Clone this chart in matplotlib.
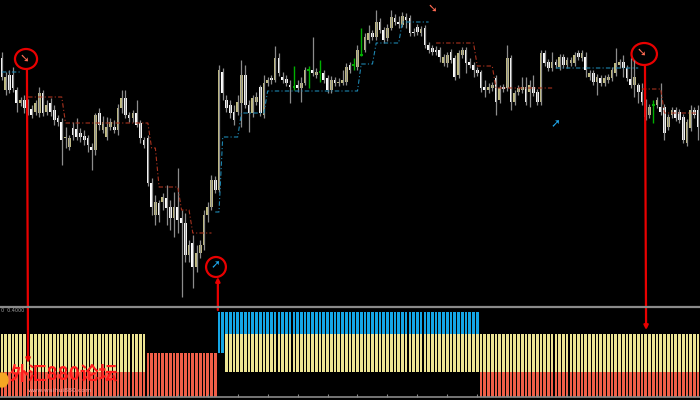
import numpy as np
import matplotlib
matplotlib.use("Agg")
import matplotlib.pyplot as plt
from matplotlib.patches import Ellipse, ConnectionPatch
from matplotlib.lines import Line2D

plt.rcParams['font.family'] = ['Noto Sans CJK SC', 'DejaVu Sans']

# OHLC per bar, in price points (rows of 10 bars)
opens = [
    242, 210, 225, 225, 210, 197, 200, 197, 191, 188,
    187, 207, 188, 197, 190, 182, 178, 162, 153, 172,
    171, 167, 164, 162, 153, 150, 187, 170, 163, 173,
    173, 170, 192, 202, 185, 182, 187, 177, 160, 162,
    117, 85, 97, 98, 102, 93, 82, 93, 82, 77,
    45, 57, 33, 47, 55, 85, 93, 120, 110, 228,
    200, 195, 188, 188, 197, 225, 195, 187, 198, 213,
    185, 217, 222, 220, 242, 223, 221, 215, 213, 215,
    212, 217, 230, 230, 225, 228, 227, 222, 210, 220,
    217, 217, 218, 235, 235, 233, 245, 250, 260, 267,
    263, 278, 270, 262, 272, 282, 278, 275, 283, 282,
    268, 273, 267, 272, 255, 252, 250, 250, 237, 237,
    248, 242, 225, 245, 250, 238, 235, 230, 228, 213,
    210, 212, 222, 200, 213, 212, 242, 198, 208, 210,
    213, 208, 213, 208, 198, 247, 238, 232, 238, 233,
    243, 235, 237, 237, 247, 242, 243, 223, 227, 218,
    222, 217, 220, 222, 227, 235, 238, 232, 221, 215,
    215, 208, 198, 185, 195, 195, 193, 193, 173, 185,
    190, 188, 183, 157, 172, 190, 190,
]
closes = [
    223, 223, 210, 212, 197, 200, 192, 191, 185, 197,
    207, 187, 195, 188, 180, 178, 160, 163, 162, 165,
    163, 163, 160, 155, 150, 185, 175, 178, 173, 178,
    170, 192, 202, 185, 182, 187, 175, 162, 155, 117,
    93, 98, 85, 103, 92, 82, 93, 80, 77, 45,
    55, 33, 47, 55, 85, 93, 120, 110, 230, 207,
    192, 187, 180, 198, 225, 195, 187, 202, 203, 187,
    217, 220, 220, 242, 227, 220, 217, 213, 213, 212,
    217, 230, 230, 227, 228, 228, 220, 210, 220, 217,
    218, 220, 233, 230, 235, 250, 245, 263, 267, 263,
    278, 270, 260, 272, 283, 278, 276, 284, 280, 267,
    267, 268, 271, 255, 250, 248, 248, 243, 243, 245,
    240, 223, 247, 250, 237, 235, 230, 227, 212, 210,
    213, 215, 198, 212, 211, 242, 198, 207, 212, 213,
    198, 215, 207, 198, 247, 237, 232, 238, 235, 243,
    235, 240, 240, 245, 243, 247, 230, 227, 218, 223,
    217, 222, 223, 230, 237, 238, 232, 222, 215, 223,
    208, 198, 183, 193, 195, 200, 188, 167, 183, 190,
    182, 180, 160, 178, 190, 185, 173,
]
highs = [
    248, 228, 230, 233, 213, 203, 205, 201, 195, 200,
    213, 210, 200, 202, 195, 185, 182, 173, 165, 178,
    182, 172, 170, 165, 157, 187, 192, 184, 183, 182,
    180, 196, 210, 210, 188, 190, 200, 180, 163, 165,
    122, 105, 100, 107, 115, 100, 108, 132, 90, 87,
    60, 65, 55, 60, 90, 98, 125, 124, 235, 232,
    205, 200, 195, 205, 240, 235, 200, 205, 208, 215,
    225, 223, 225, 254, 247, 228, 225, 220, 234, 220,
    223, 233, 234, 263, 232, 240, 230, 225, 224, 223,
    222, 230, 237, 238, 242, 255, 272, 267, 275, 270,
    290, 282, 273, 276, 290, 286, 284, 288, 287, 285,
    272, 276, 274, 275, 258, 255, 254, 253, 246, 248,
    251, 245, 250, 253, 253, 242, 238, 233, 230, 220,
    217, 218, 225, 215, 216, 255, 245, 210, 215, 223,
    223, 220, 225, 211, 250, 250, 241, 248, 241, 246,
    246, 243, 243, 248, 250, 250, 248, 230, 230, 226,
    225, 225, 226, 233, 252, 241, 245, 235, 242, 240,
    217, 217, 201, 196, 200, 203, 217, 196, 186, 193,
    193, 191, 186, 181, 195, 193, 195,
]
lows = [
    220, 205, 207, 208, 188, 194, 187, 185, 182, 185,
    183, 184, 185, 184, 175, 174, 135, 152, 150, 160,
    160, 158, 155, 148, 130, 145, 170, 167, 160, 170,
    167, 165, 187, 182, 178, 178, 173, 157, 152, 114,
    85, 75, 78, 90, 75, 70, 63, 67, 3, 38,
    38, 12, 28, 42, 50, 78, 90, 107, 108, 200,
    188, 182, 175, 185, 173, 192, 168, 183, 195, 184,
    182, 214, 216, 218, 224, 217, 214, 197, 210, 208,
    198, 215, 212, 224, 222, 218, 217, 207, 207, 214,
    214, 215, 215, 227, 230, 230, 244, 248, 257, 260,
    260, 267, 257, 259, 270, 275, 272, 273, 272, 264,
    264, 265, 264, 252, 247, 245, 245, 238, 234, 233,
    237, 220, 222, 242, 227, 232, 223, 224, 208, 203,
    207, 209, 185, 197, 208, 209, 190, 195, 205, 207,
    195, 193, 204, 195, 195, 234, 229, 229, 232, 230,
    232, 232, 234, 234, 240, 239, 223, 220, 215, 205,
    214, 214, 217, 219, 224, 232, 223, 219, 212, 203,
    197, 195, 180, 182, 177, 192, 185, 160, 170, 182,
    179, 177, 157, 154, 169, 182, 160,
]

# trailing stop segments: first bar, last bar, level
red_stop_start = [7, 17, 40, 42, 48, 51, 116, 127, 132, 171, 177]
red_stop_end = [16, 39, 41, 47, 50, 56, 126, 131, 147, 176, 186]
red_stop_level = [203, 177, 152, 113, 90, 67, 257, 234, 212, 211, 187]
blue_stop_start = [0, 57, 59, 64, 71, 96, 100, 107, 148]
blue_stop_end = [5, 58, 63, 70, 95, 99, 106, 114, 170]
blue_stop_level = [228, 88, 163, 187, 209, 236, 257, 278, 232]

# signal arrows
sell_bar = [6, 115, 171]
sell_price = [242, 292, 248]
buy_bar = [57, 148]
buy_price = [35, 176]

# lower indicator histogram
hist_start = [0, 39, 58, 60, 128]
hist_end = [38, 57, 59, 127, 186]
hist_mode = ['weak_down', 'down', 'up', 'weak_up', 'weak_down']
red_band = {'weak_down': (0, 1.0), 'down': (0, 1.76)}
yellow_band = {'weak_down': (1.0, 2.52), 'weak_up': (1.0, 2.52)}
blue_band = {'up': (1.76, 3.4), 'weak_up': (2.52, 3.4)}

o = np.array(opens, float)
c = np.array(closes, float)
h = np.array(highs, float)
l = np.array(lows, float)
N = len(c)
idx = np.arange(N)

fig = plt.figure(figsize=(7, 4), dpi=100, facecolor='black')
ax = fig.add_axes([0, 0.2375, 1, 0.7625])
ax2 = fig.add_axes([0, 0.0075, 1, 0.225])
for a in (ax, ax2):
    a.set_facecolor('black')
    a.set_xlim(-0.5, N - 0.5)
    for s in a.spines.values():
        s.set_visible(False)
    a.set_xticks([])
    a.set_yticks([])
ax.set_ylim(-5, 300)
ax2.set_ylim(0, 3.6)

# candles
up = c > o
dn = c < o
dj = c == o
ax.vlines(idx[~dj], l[~dj], h[~dj], color='#8c8c8c', lw=0.9)
ax.vlines(idx[dj], l[dj], h[dj], color='#00b000', lw=1.0)
ax.bar(idx[up], (c - o)[up], bottom=o[up], width=0.72, color='#c2bd82', linewidth=0)
ax.bar(idx[dn], (o - c)[dn], bottom=c[dn], width=0.72, color='white', linewidth=0)
ax.bar(idx[dj], 1.5, bottom=o[dj] - 0.75, width=0.72, color='#00b000', linewidth=0)


def stop_line(starts, ends, levels):
    y = np.full(N, np.nan)
    for s, e, v in zip(starts, ends, levels):
        y[s:e + 1] = v
    return y


ax.plot(idx, stop_line(red_stop_start, red_stop_end, red_stop_level),
        color='#a8321e', lw=0.8, dashes=(4, 2, 1, 2))
ax.plot(idx, stop_line(blue_stop_start, blue_stop_end, blue_stop_level),
        color='#1e86b0', lw=0.8, dashes=(4, 2, 1, 2))

for b, p in zip(sell_bar, sell_price):
    ax.text(b, p, '\u2798', color='#ff6a52', fontsize=8.5, ha='center', va='center',
            family='DejaVu Sans', fontweight='bold')
for b, p in zip(buy_bar, buy_price):
    ax.text(b, p, '\u279a', color='#20aaf0', fontsize=8.5, ha='center', va='center',
            family='DejaVu Sans', fontweight='bold')

# histogram
for s, e, m in zip(hist_start, hist_end, hist_mode):
    xs = np.arange(s, e + 1)
    for band, col in ((red_band, '#f05e48'), (yellow_band, '#ece493'), (blue_band, '#14a6e6')):
        if m in band:
            b0, b1 = band[m]
            ax2.bar(xs, b1 - b0, bottom=b0, width=0.72, color=col, linewidth=0)

ax2.spines['bottom'].set_visible(True)
ax2.spines['bottom'].set_color('#8a8a8a')
ax2.spines['bottom'].set_linewidth(1.2)
ax2.set_xticks(np.arange(7, N, 8))
ax2.set_xticklabels([])
ax2.tick_params(axis='x', direction='in', length=2.5, color='#8a8a8a', width=0.8)

fig.add_artist(Line2D([0, 1], [0.2335, 0.2335], transform=fig.transFigure,
                      color='#8a8a8a', lw=1.6))
fig.text(0.002, 1 - 311 / 400, '0  0.4000', color='#a0a0a0', fontsize=3.5,
         va='center', family='DejaVu Sans')

# hand-drawn annotations
red = '#e80000'
for (cx, cy, w, hh) in [(6.45, 241, 5.9, 20), (57.2, 33, 5.3, 20), (171.6, 246, 6.8, 22)]:
    ax.add_patch(Ellipse((cx, cy), w, hh, fill=False, ec=red, lw=1.6))

fig.add_artist(ConnectionPatch(xyA=(6.7, 231), coordsA=ax.transData,
                               xyB=(7.0, 1.36), coordsB=ax2.transData,
                               arrowstyle='-|>', color=red, lw=1.6, mutation_scale=6))
fig.add_artist(ConnectionPatch(xyA=(57.7, 3.48), coordsA=ax2.transData,
                               xyB=(57.7, 23), coordsB=ax.transData,
                               arrowstyle='-|>', color=red, lw=1.6, mutation_scale=6))
fig.add_artist(ConnectionPatch(xyA=(171.8, 235), coordsA=ax.transData,
                               xyB=(172.1, 2.68), coordsB=ax2.transData,
                               arrowstyle='-|>', color=red, lw=1.6, mutation_scale=6))

# watermark
fig.add_artist(Ellipse((2 / 700, 20 / 400), 12 / 700, 14 / 400, transform=fig.transFigure,
                       color='#f5a623'))
fig.text(10 / 700, 25 / 400, '外汇880论坛', color='#ff1e1e', fontsize=13.5,
         fontweight='bold', va='center', ha='left')
fig.text(28 / 700, 9 / 400, 'www.waihui880.com', color='#e8a0a0', fontsize=4.5,
         va='center', ha='left', family='DejaVu Sans')

fig.savefig('out.png', dpi=100, facecolor='black')
